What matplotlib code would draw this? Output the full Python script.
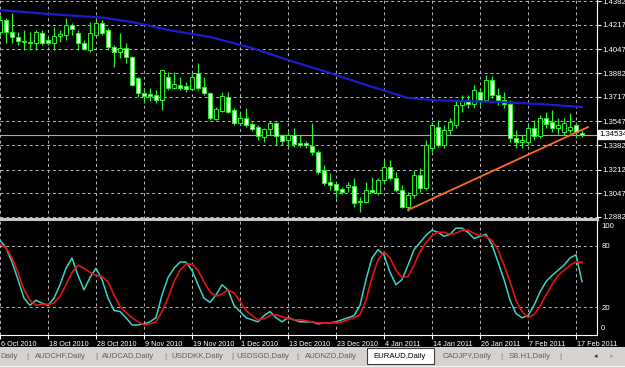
import matplotlib
matplotlib.use("Agg")
import matplotlib.pyplot as plt
import matplotlib.transforms as mtransforms
from matplotlib.patches import Rectangle
import numpy as np

# ---- data (EURAUD daily) ----
opens = [1.4168, 1.4251, 1.4168, 1.4133, 1.4105, 1.4098, 1.4091, 1.4161, 1.4112, 1.4091,
         1.4140, 1.4147, 1.4216, 1.4161, 1.4091, 1.4043, 1.4147, 1.4230, 1.4182, 1.4063,
         1.4029, 1.4056, 1.3994, 1.3848, 1.3744, 1.3737, 1.3730, 1.3695, 1.3855, 1.3778,
         1.3799, 1.3792, 1.3771, 1.3883, 1.3785, 1.3744, 1.3563, 1.3619, 1.3716, 1.3626,
         1.3535, 1.3570, 1.3528, 1.3507, 1.3438, 1.3493, 1.3535, 1.3452, 1.3417, 1.3452,
         1.3396, 1.3396, 1.3375, 1.3334, 1.3209, 1.3125, 1.3111, 1.3076, 1.3090, 1.3097,
         1.2986, 1.2986, 1.3069, 1.3049, 1.3139, 1.3229, 1.3153, 1.3069, 1.2951, 1.3035,
         1.3174, 1.3083, 1.3361, 1.3507, 1.3382, 1.3486, 1.3521, 1.3660, 1.3695, 1.3667,
         1.3751, 1.3695, 1.3834, 1.3730, 1.3695, 1.3667, 1.3431, 1.3403, 1.3403, 1.3500,
         1.3445, 1.3570, 1.3542, 1.3500, 1.3473, 1.3486, 1.3521, 1.3466]
highs = [1.4286, 1.4265, 1.4300, 1.4168, 1.4182, 1.4168, 1.4182, 1.4182, 1.4133, 1.4202,
         1.4182, 1.4265, 1.4230, 1.4182, 1.4112, 1.4237, 1.4251, 1.4251, 1.4195, 1.4077,
         1.4161, 1.4091, 1.4001, 1.3855, 1.3778, 1.3778, 1.3765, 1.3904, 1.3890, 1.3890,
         1.3855, 1.3820, 1.3883, 1.3952, 1.3855, 1.3751, 1.3646, 1.3751, 1.3751, 1.3639,
         1.3612, 1.3639, 1.3542, 1.3521, 1.3500, 1.3549, 1.3542, 1.3459, 1.3473, 1.3500,
         1.3452, 1.3410, 1.3535, 1.3348, 1.3243, 1.3188, 1.3118, 1.3090, 1.3125, 1.3153,
         1.3021, 1.3125, 1.3160, 1.3153, 1.3278, 1.3278, 1.3195, 1.3104, 1.3056, 1.3209,
         1.3222, 1.3417, 1.3542, 1.3556, 1.3521, 1.3570, 1.3695, 1.3730, 1.3730, 1.3799,
         1.3778, 1.3869, 1.3862, 1.3778, 1.3751, 1.3695, 1.3486, 1.3452, 1.3521, 1.3556,
         1.3591, 1.3612, 1.3626, 1.3570, 1.3570, 1.3605, 1.3542, 1.3486]
lows = [1.4147, 1.4091, 1.4091, 1.4077, 1.4043, 1.4043, 1.4043, 1.4077, 1.4077, 1.4043,
        1.4098, 1.4112, 1.4147, 1.4043, 1.4043, 1.4029, 1.4133, 1.4147, 1.4043, 1.3924,
        1.3987, 1.3952, 1.3792, 1.3716, 1.3674, 1.3688, 1.3674, 1.3626, 1.3765, 1.3771,
        1.3765, 1.3751, 1.3765, 1.3765, 1.3730, 1.3556, 1.3556, 1.3612, 1.3605, 1.3521,
        1.3521, 1.3507, 1.3480, 1.3417, 1.3403, 1.3452, 1.3382, 1.3382, 1.3361, 1.3368,
        1.3368, 1.3361, 1.3313, 1.3181, 1.3104, 1.3069, 1.3014, 1.3042, 1.3056, 1.2951,
        1.2917, 1.2979, 1.3049, 1.3035, 1.3118, 1.3139, 1.3056, 1.2944, 1.2924, 1.3014,
        1.3056, 1.3069, 1.3334, 1.3368, 1.3361, 1.3452, 1.3500, 1.3612, 1.3639, 1.3639,
        1.3660, 1.3681, 1.3709, 1.3660, 1.3639, 1.3403, 1.3361, 1.3361, 1.3382, 1.3417,
        1.3431, 1.3500, 1.3473, 1.3459, 1.3452, 1.3466, 1.3431, 1.3438]
closes = [1.4251, 1.4168, 1.4133, 1.4105, 1.4098, 1.4091, 1.4168, 1.4091, 1.4091, 1.4140,
          1.4154, 1.4216, 1.4188, 1.4091, 1.4049, 1.4161, 1.4230, 1.4161, 1.4063, 1.4029,
          1.4056, 1.3994, 1.3799, 1.3744, 1.3723, 1.3723, 1.3695, 1.3904, 1.3778, 1.3806,
          1.3778, 1.3771, 1.3855, 1.3778, 1.3744, 1.3570, 1.3632, 1.3723, 1.3612, 1.3535,
          1.3570, 1.3521, 1.3493, 1.3445, 1.3493, 1.3535, 1.3445, 1.3410, 1.3452, 1.3389,
          1.3382, 1.3382, 1.3334, 1.3195, 1.3118, 1.3104, 1.3069, 1.3056, 1.3104, 1.2979,
          1.2993, 1.3069, 1.3056, 1.3139, 1.3229, 1.3153, 1.3069, 1.2951, 1.3035, 1.3174,
          1.3083, 1.3382, 1.3521, 1.3382, 1.3486, 1.3542, 1.3660, 1.3695, 1.3667, 1.3765,
          1.3695, 1.3834, 1.3730, 1.3695, 1.3667, 1.3431, 1.3403, 1.3417, 1.3500, 1.3445,
          1.3570, 1.3528, 1.3500, 1.3521, 1.3535, 1.3507, 1.3473, 1.34534]

# blue moving average, read at a few bars
ma_idx = [0, 8, 17, 22, 28, 35, 42, 48, 55, 60, 68, 72, 77, 83, 90, 97]
ma_val = [1.4320, 1.4293, 1.4268, 1.4237, 1.4182, 1.4133, 1.4056, 1.3973, 1.3883, 1.3813,
          1.3709, 1.3695, 1.3688, 1.3681, 1.3667, 1.3646]

# hand drawn trend line
trend_idx = [68, 98]
trend_val = [1.2931, 1.3507]

# stochastic main (%K) and signal (%D)
stoch_k = [85, 78, 64, 47, 29, 22, 27, 24, 22, 29, 42, 58, 68, 51, 37, 49, 58, 47, 29, 17,
           16, 10, 3, 3, 4, 6, 10, 32, 49, 58, 64, 64, 56, 42, 29, 25, 32, 42, 37, 22,
           16, 10, 8, 6, 12, 16, 10, 6, 10, 8, 6, 6, 6, 4, 5, 5, 6, 8, 10, 12,
           22, 47, 68, 76, 71, 54, 42, 47, 61, 76, 83, 90, 95, 93, 89, 91, 97, 97, 93, 87,
           89, 91, 81, 64, 47, 27, 14, 10, 12, 22, 35, 45, 51, 56, 61, 68, 71, 45]
stoch_d = [81, 78, 68, 54, 37, 27, 22, 23, 23, 24, 31, 42, 54, 61, 58, 54, 51, 50, 45, 32,
           21, 15, 10, 6, 3, 4, 6, 16, 29, 45, 56, 62, 62, 56, 45, 35, 31, 33, 37, 34,
           26, 17, 12, 8, 9, 12, 13, 11, 9, 8, 8, 7, 6, 5, 5, 5, 5, 6, 8, 10,
           13, 27, 49, 66, 74, 68, 56, 49, 50, 61, 74, 83, 90, 93, 93, 91, 92, 95, 95, 92,
           90, 89, 85, 76, 61, 45, 27, 16, 10, 13, 21, 32, 42, 51, 56, 61, 64, 64]

date_idx = [0, 8, 16, 24, 32, 40, 48, 56, 64, 72, 80, 88, 96]
date_labels = ["6 Oct 2010", "18 Oct 2010", "28 Oct 2010", "9 Nov 2010", "19 Nov 2010",
               "1 Dec 2010", "13 Dec 2010", "23 Dec 2010", "4 Jan 2011", "14 Jan 2011",
               "26 Jan 2011", "7 Feb 2011", "17 Feb 2011"]

price_ticks = [1.43820, 1.42170, 1.40470, 1.38820, 1.37170, 1.35470, 1.33820, 1.32120,
               1.30470, 1.28820]
last_price = 1.34534
stoch_ticks = [100, 80, 20, 0]
stoch_levels = [80, 20]

tab_names = ["Daily", "AUDCHF,Daily", "AUDCAD,Daily", "USDDKK,Daily", "USDSGD,Daily",
             "AUDNZD,Daily", "EURAUD,Daily", "CADJPY,Daily", "SB.H1,Daily"]
active_tab = "EURAUD,Daily"

# ---- look ----
plt.rcParams['font.family'] = ['Liberation Sans', 'DejaVu Sans']
GREEN = '#2bf02b'
BEAR = '#f2fff0'
GRID = '#b8b8b8'
DASH = (0, (3, 3))
W, H = 625, 368

fig = plt.figure(figsize=(W / 100, H / 100), dpi=100, facecolor='black')


def box(x0, y0, x1, y1):
    # pixel box (top-left origin) -> figure fraction rect
    return [x0 / W, 1 - y1 / H, (x1 - x0) / W, (y1 - y0) / H]


ax = fig.add_axes(box(0, 0, 597, 219))
ax2 = fig.add_axes(box(0, 221, 597, 335))

for a in (ax, ax2):
    a.set_facecolor('black')
    a.set_xlim(0, 99.5)
    a.spines['top'].set_visible(False)
    a.spines['left'].set_visible(False)
    a.spines['right'].set_color('white')
    a.yaxis.tick_right()
    a.tick_params(axis='y', colors='white', labelsize=5.6, length=3, width=0.8, pad=1)
    a.set_xticks(date_idx)
    a.grid(True, axis='x', color=GRID, linestyle=DASH, linewidth=0.7)
    a.set_axisbelow(True)

# --- price panel ---
x = np.arange(len(opens))
o = np.array(opens)
c = np.array(closes)
up = c >= o
ax.vlines(x, lows, highs, color=GREEN, linewidth=0.9, zorder=2)
ax.bar(x, np.abs(c - o), bottom=np.minimum(o, c), width=0.62,
       color=np.where(up, 'black', BEAR), edgecolor=GREEN, linewidth=0.7, zorder=3)
ax.plot(ma_idx, ma_val, color='#1c1ccc', linewidth=1.6, zorder=4)
ax.plot(trend_idx, trend_val, color='#ff6a24', linewidth=1.3, zorder=4)
ax.axhline(last_price, color='#a8a8a8', linewidth=0.8, zorder=1)

ax.set_ylim(1.2868, 1.4390)
ax.set_yticks(price_ticks, [f"{p:.5f}" for p in price_ticks])
ax.grid(True, axis='y', color=GRID, linestyle=DASH, linewidth=0.7)
ax.tick_params(axis='x', length=0, labelbottom=False)
ax.spines['bottom'].set_color('#c8c8c8')
ax.spines['bottom'].set_linewidth(2.2)
ax.text(1.004, last_price, f"{last_price:.5f}", transform=ax.get_yaxis_transform(),
        ha='left', va='center', fontsize=5.6, color='black', clip_on=False,
        bbox=dict(boxstyle='square,pad=0.15', facecolor='white', edgecolor='white'))

# --- stochastic panel ---
ax2.plot(x, stoch_k, color='#3cd2c4', linewidth=1.1, zorder=3)
ax2.plot(x, stoch_d, color='#e41414', linewidth=1.2, zorder=3)
for lv in stoch_levels:
    ax2.axhline(lv, color=GRID, linestyle=DASH, linewidth=0.7, zorder=1)
ax2.set_ylim(-6.8, 103.9)
ax2.set_yticks(stoch_ticks, [str(v) for v in stoch_ticks])
ax2.tick_params(axis='y', length=0, pad=3)
ax2.spines['bottom'].set_color('white')
ax2.set_xticks(date_idx, date_labels)
ax2.tick_params(axis='x', colors='white', labelsize=5.2, length=3, width=0.8, pad=1)
shift = mtransforms.ScaledTranslation(1.0 / 100, 0, fig.dpi_scale_trans)
for lbl in ax2.get_xticklabels():
    lbl.set_horizontalalignment('left')
    lbl.set_transform(lbl.get_transform() + shift)

# --- tab bar at the bottom ---
fig.patches.append(Rectangle((0, 0), 1, 21 / H, transform=fig.transFigure,
                             facecolor='#d6d3ce', edgecolor='none'))
fig.patches.append(Rectangle((0, 1 / H), 1, 0.6 / H, transform=fig.transFigure,
                             facecolor='#f4f4f4', edgecolor='none'))
tab_x = [9, 60, 128, 197, 263, 331, 400, 467, 530]
sep_x = [27, 96, 165, 232, 297, 501, 560]
ty = 1 - 356 / H
for name, tx in zip(tab_names, tab_x):
    if name == active_tab:
        fig.patches.append(Rectangle((367 / W, 1 - 364 / H), 67 / W, 16 / H,
                                     transform=fig.transFigure, facecolor='white',
                                     edgecolor='#404040', linewidth=0.8))
        fig.text(tx / W, ty, name, ha='center', va='center', fontsize=5.6, color='black')
    else:
        fig.text(tx / W, ty, name, ha='center', va='center', fontsize=5.6, color='#606060')
for sx in sep_x:
    fig.text(sx / W, ty, "|", ha='center', va='center', fontsize=6, color='#707070')
fig.text(596 / W, ty, "\u25c2", ha='center', va='center', fontsize=5, color='#303030',
         family='DejaVu Sans')
fig.text(612 / W, ty, "\u25b8", ha='center', va='center', fontsize=5, color='#a0a0a0',
         family='DejaVu Sans')

fig.savefig("out.png", dpi=100, facecolor='black')
